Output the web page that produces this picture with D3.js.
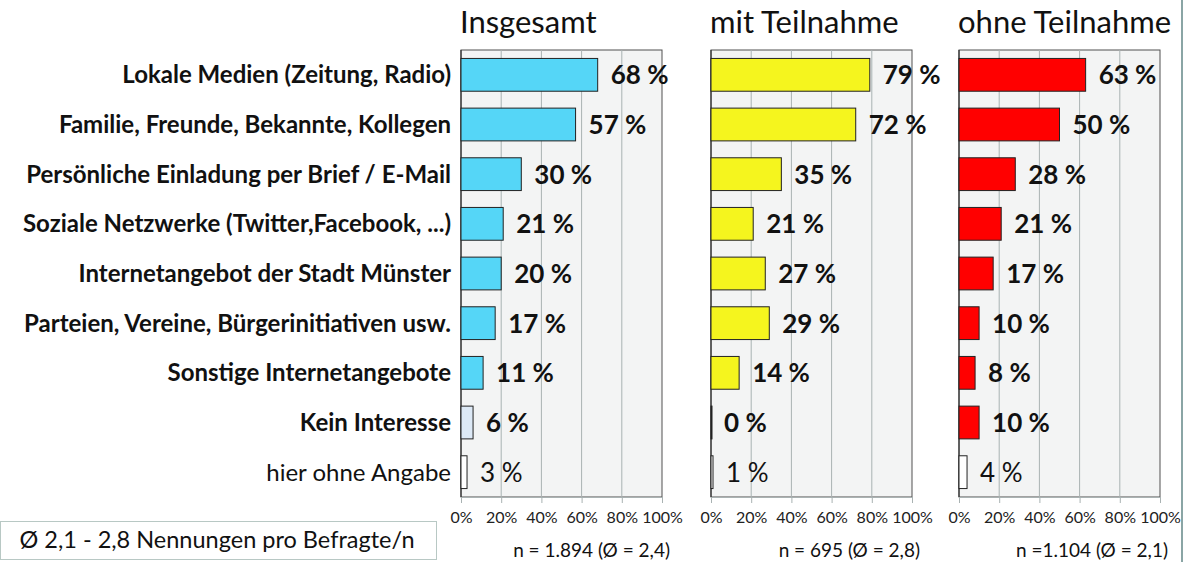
<!DOCTYPE html>
<html>
<head>
<meta charset="utf-8">
<script src="https://d3js.org/d3.v7.min.js"></script>
<style>
  body { margin: 0; background: #fff; }
  text { font-family: Lato, "Open Sans", sans-serif; }
</style>
</head>
<body>
<script>
const W = 1191, H = 562

const categories = [
  "Lokale Medien (Zeitung, Radio)",
  "Familie, Freunde, Bekannte, Kollegen",
  "Persönliche Einladung per Brief / E-Mail",
  "Soziale Netzwerke (Twitter,Facebook, ...)",
  "Internetangebot der Stadt Münster",
  "Parteien, Vereine, Bürgerinitiativen usw.",
  "Sonstige Internetangebote",
  "Kein Interesse",
  "hier ohne Angabe"
]
const panelTitles = ["Insgesamt", "mit Teilnahme", "ohne Teilnahme"]
const insgesamt = [68, 57, 30, 21, 20, 17, 11, 6, 3]
const mitTeilnahme = [79, 72, 35, 21, 27, 29, 14, 0, 1]
const ohneTeilnahme = [63, 50, 28, 21, 17, 10, 8, 10, 4]
const nLabels = ["n = 1.894 (Ø = 2,4)", "n = 695 (Ø = 2,8)", "n =1.104 (Ø = 2,1)"]
const tickValues = [0, 20, 40, 60, 80, 100]
const noteText = "Ø 2,1 - 2,8 Nennungen pro Befragte/n"

const series = [insgesamt, mitTeilnahme, ohneTeilnahme]
const mainColors = ["#55d6f7", "#f5f51e", "#ff0000"]
// last two rows have their own fills
function barColor(p, i) {
  if (i === 8) return "#ffffff"
  if (i === 7 && p === 0) return "#dde9f6"
  return mainColors[p]
}

const lefts = [461, 711, 959]
const pw = 201
const plotTop = 50, plotBottom = 497

const svg = d3.select("body").append("svg")
  .attr("width", W).attr("height", H)

const y = d3.scaleBand().domain(categories).range([plotTop, plotBottom])
  .paddingInner(0.34).paddingOuter(0.17)

// category labels
svg.append("g").selectAll("text")
  .data(categories)
  .join("text")
  .attr("x", 451)
  .attr("y", d => y(d) + y.bandwidth() / 2)
  .attr("dy", "0.36em")
  .attr("text-anchor", "end")
  .attr("font-size", 24)
  .attr("font-weight", (d, i) => i === 8 ? "normal" : "bold")
  .attr("fill", "#111")
  .text(d => d)

series.forEach((vals, p) => {
  const x = d3.scaleLinear().domain([0, 100]).range([lefts[p], lefts[p] + pw])
  const g = svg.append("g")

  g.append("rect")
    .attr("x", x(0)).attr("y", plotTop)
    .attr("width", x(100) - x(0)).attr("height", plotBottom - plotTop)
    .attr("fill", "#f3f4f4")
    .attr("stroke", "#505050").attr("stroke-width", 1)

  g.append("g").selectAll("line")
    .data(tickValues.slice(1, -1))
    .join("line")
    .attr("x1", d => x(d)).attr("x2", d => x(d))
    .attr("y1", plotTop).attr("y2", plotBottom)
    .attr("stroke", "#a9b2b2").attr("stroke-width", 1)

  const axis = g.append("g")
    .attr("transform", `translate(0,${plotBottom})`)
    .call(d3.axisBottom(x).tickValues(tickValues).tickSize(6).tickSizeOuter(0)
      .tickFormat(d => d + "%"))
  axis.select(".domain").attr("stroke", "#a9b2b2")
  axis.selectAll(".tick line").attr("stroke", "#a9b2b2")
  axis.selectAll(".tick text")
    .attr("font-size", 16).attr("fill", "#222").attr("dy", "1.05em")
    .style("font-family", "Lato, sans-serif")

  g.append("line")
    .attr("x1", x(0)).attr("x2", x(0))
    .attr("y1", plotTop).attr("y2", plotBottom)
    .attr("stroke", "#333").attr("stroke-width", 1.2)

  g.append("g").selectAll("rect")
    .data(vals)
    .join("rect")
    .attr("x", x(0))
    .attr("y", (d, i) => y(categories[i]))
    .attr("width", d => Math.max(x(d) - x(0), 1))
    .attr("height", y.bandwidth())
    .attr("fill", (d, i) => barColor(p, i))
    .attr("stroke", "#222").attr("stroke-width", 1)

  g.append("g").selectAll("text")
    .data(vals)
    .join("text")
    .attr("x", d => x(d) + 13)
    .attr("y", (d, i) => y(categories[i]) + y.bandwidth() / 2)
    .attr("dy", "0.37em")
    .attr("font-size", 26)
    .attr("font-weight", (d, i) => i === 8 ? "normal" : "bold")
    .attr("fill", "#111")
    .text(d => d + " %")

  svg.append("text")
    .attr("x", lefts[p] - 1)
    .attr("y", 33)
    .attr("font-size", 31)
    .attr("fill", "#111")
    .text(panelTitles[p])

  svg.append("text")
    .attr("x", x(100) + 8)
    .attr("y", 557)
    .attr("text-anchor", "end")
    .attr("font-size", 19)
    .attr("fill", "#111")
    .text(nLabels[p])
})

// note box
svg.append("rect")
  .attr("x", 0.5).attr("y", 521.5)
  .attr("width", 436).attr("height", 38)
  .attr("fill", "#fff").attr("stroke", "#b8c8c4")
svg.append("text")
  .attr("x", 217).attr("y", 540)
  .attr("dy", "0.36em")
  .attr("text-anchor", "middle")
  .attr("font-size", 23.5)
  .attr("fill", "#111")
  .text(noteText)

// right frame line
svg.append("line")
  .attr("x1", 1182).attr("x2", 1182).attr("y1", 0).attr("y2", H)
  .attr("stroke", "#8aa5a5").attr("stroke-width", 2)
</script>
</body>
</html>
